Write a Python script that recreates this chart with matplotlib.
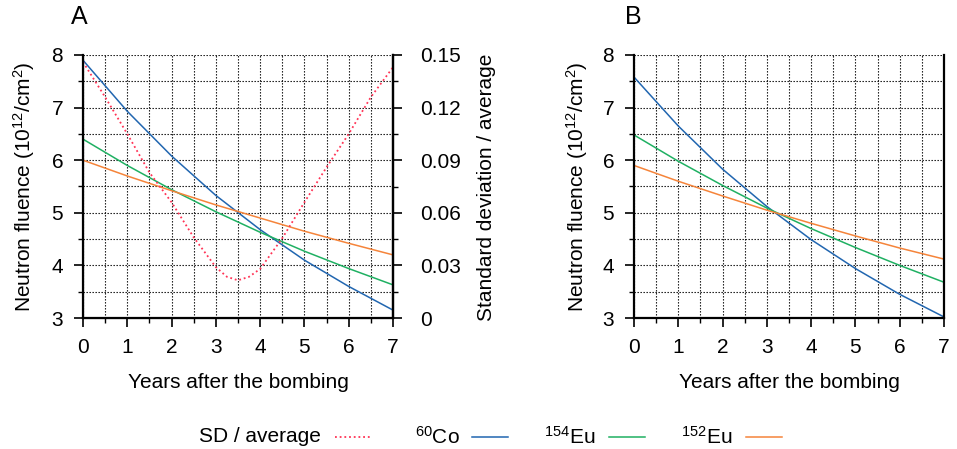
import matplotlib
matplotlib.use("Agg")
import matplotlib.pyplot as plt
from matplotlib.lines import Line2D
from matplotlib.ticker import MultipleLocator, FixedLocator

plt.rcParams["font.family"] = ["Liberation Sans", "DejaVu Sans"]
plt.rcParams["mathtext.fontset"] = "custom"
plt.rcParams["mathtext.rm"] = "Liberation Sans"
plt.rcParams["mathtext.it"] = "Liberation Sans:italic"

# data
years = [0, 1, 2, 3, 4, 5, 6, 7]

co60_a = [7.90, 6.93, 6.08, 5.33, 4.68, 4.10, 3.60, 3.15]
eu154_a = [6.40, 5.90, 5.44, 5.02, 4.63, 4.27, 3.94, 3.63]
eu152_a = [6.00, 5.70, 5.42, 5.15, 4.90, 4.65, 4.42, 4.20]

sd_years = [0, 0.5, 1, 1.5, 2, 2.5, 3, 3.25, 3.5, 3.75, 4, 4.5, 5, 5.5, 6, 6.5, 7]
sd_avg = [0.146, 0.126, 0.105, 0.083, 0.066, 0.046, 0.029, 0.0235, 0.0215,
          0.0235, 0.028, 0.0455, 0.066, 0.086, 0.105, 0.126, 0.143]

co60_b = [7.58, 6.65, 5.83, 5.12, 4.49, 3.94, 3.45, 3.02]
eu154_b = [6.48, 5.98, 5.52, 5.09, 4.70, 4.34, 4.00, 3.68]
eu152_b = [5.90, 5.60, 5.32, 5.05, 4.80, 4.56, 4.33, 4.12]

C_CO = "#2166b0"
C_154 = "#1fb062"
C_152 = "#f5843a"
C_SD = "#ff3355"
DOT = (0, (1, 1.6))
FS = 15

W, H = 957, 449
fig = plt.figure(figsize=(W / 100, H / 100), dpi=100)


def box(left, top, right, bottom):
    return [left / W, 1 - bottom / H, (right - left) / W, (bottom - top) / H]


def px(x, y):
    return x / W, 1 - y / H


def style_axes(ax):
    ax.set_xlim(0, 7)
    ax.set_ylim(3, 8)
    ax.xaxis.set_major_locator(MultipleLocator(1))
    ax.xaxis.set_minor_locator(MultipleLocator(0.5))
    ax.yaxis.set_major_locator(MultipleLocator(1))
    ax.yaxis.set_minor_locator(MultipleLocator(0.5))
    ax.grid(which="both", color="black", linestyle=(0, (1.2, 1.5)), linewidth=0.8)
    ax.spines["top"].set_visible(False)
    for s in ["left", "bottom", "right"]:
        ax.spines[s].set_linewidth(1.6)
    ax.tick_params(which="major", direction="out", length=6.3, width=1.2, labelsize=FS, pad=8)
    ax.tick_params(which="minor", direction="out", length=3.6, width=1.0)
    ax.tick_params(axis="y", which="both", right=False)
    ax.set_axisbelow(True)


# panel A
ax = fig.add_axes(box(83, 55, 393, 318))
style_axes(ax)
ax.plot(years, co60_a, color=C_CO, lw=1.1)
ax.plot(years, eu154_a, color=C_154, lw=1.1)
ax.plot(years, eu152_a, color=C_152, lw=1.1)

ax2 = ax.twinx()
ax2.set_ylim(0, 0.15)
ax2.yaxis.set_major_locator(FixedLocator([0, 0.03, 0.06, 0.09, 0.12, 0.15]))
ax2.yaxis.set_minor_locator(MultipleLocator(0.015))
ax2.set_yticklabels(["0", "0.03", "0.06", "0.09", "0.12", "0.15"])
ax2.tick_params(which="major", direction="out", length=6.3, width=1.2, labelsize=FS, pad=13)
ax2.tick_params(which="minor", direction="out", length=3.6, width=1.0)
ax2.spines["top"].set_visible(False)
ax2.spines["right"].set_linewidth(1.6)
ax2.plot(sd_years, sd_avg, color=C_SD, lw=1.3, linestyle=DOT)

# panel B
bx = fig.add_axes(box(634, 55, 944, 318))
style_axes(bx)
bx.plot(years, co60_b, color=C_CO, lw=1.1)
bx.plot(years, eu154_b, color=C_154, lw=1.1)
bx.plot(years, eu152_b, color=C_152, lw=1.1)

# labels
ylab = "Neutron fluence (10$^{12}$/cm$^2$)"
fig.text(*px(79, 17), "A", fontsize=18, ha="center", va="center")
fig.text(*px(633, 17), "B", fontsize=18, ha="center", va="center")
fig.text(*px(24, 187), ylab, fontsize=FS, rotation=90, ha="center", va="center")
fig.text(*px(577, 187), ylab, fontsize=FS, rotation=90, ha="center", va="center")
fig.text(*px(486, 187), "Standard deviation / average", fontsize=FS, rotation=90,
         ha="center", va="center")
fig.text(*px(238, 382), "Years after the bombing", fontsize=FS, ha="center", va="center")
fig.text(*px(789, 382), "Years after the bombing", fontsize=FS, ha="center", va="center")

# legend along the bottom
legend_items = [
    ("SD / average", C_SD, DOT, 321, 335, 371),
    ("$^{60}$Co", C_CO, "-", 460, 472, 508),
    ("$^{154}$Eu", C_154, "-", 595, 609, 645),
    ("$^{152}$Eu", C_152, "-", 732, 746, 782),
]
ly = 437
for label, col, ls, tx, x0, x1 in legend_items:
    fig.text(*px(tx, ly), label, fontsize=FS, ha="right", va="center")
    fig.add_artist(Line2D([x0 / W, x1 / W], [1 - ly / H, 1 - ly / H],
                          color=col, linestyle=ls, lw=1.3 if ls != "-" else 1.1,
                          transform=fig.transFigure))

fig.savefig("out.png", dpi=100)
